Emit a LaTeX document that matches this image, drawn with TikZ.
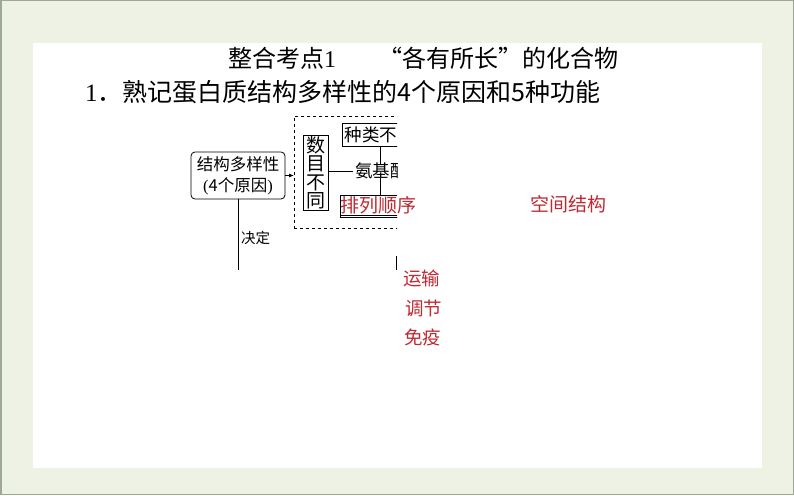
\documentclass[tikz,border=0pt]{standalone}
\usepackage{fontspec}
\setmainfont{Liberation Serif}
\newfontfamily\cjk{Noto Sans CJK SC}
\usetikzlibrary{arrows.meta}
\definecolor{bgc}{HTML}{EEF2E5}
\definecolor{edgec}{HTML}{9EA897}
\definecolor{redc}{RGB}{192,40,50}
\tikzset{
  txt/.style={inner sep=0pt, outer sep=0pt, anchor=west},
  redtxt/.style={txt, text=redc, font=\cjk\fontsize{19}{19}\selectfont},
  dtxt/.style={font=\cjk\fontsize{17.5}{17.5}\selectfont},
  line/.style={draw=black, line width=0.8pt},
}
\begin{document}
\begin{tikzpicture}[x=1pt,y=-1pt]
\useasboundingbox (0,0) rectangle (794,495);
\fill[bgc] (0,0) rectangle (794,495);
\draw[edgec, line width=1.5pt] (0.75,0.75) rectangle (793.25,494.25);
\fill[white] (33,43) rectangle (762,468);

% titles
\node[txt, font=\cjk\fontsize{24}{24}\selectfont] (t1a) at (228,58) {整合考点{\rmfamily 1}};
\node[txt, font=\cjk\fontsize{24}{24}\selectfont] (t1b) at (378,58) {“各有所长”的化合物};
\node[txt, font=\cjk\fontsize{25}{25}\selectfont] (t2) at (85,92) {{\rmfamily 1}．熟记蛋白质结构多样性的4个原因和5种功能};

% diagram (clipped image)
\begin{scope}
\clip (183,106) rectangle (397,270);
\node[draw, line width=0.8pt, rounded corners=4pt, minimum width=94pt, minimum height=47pt, inner sep=0pt, align=center,
      font=\cjk\fontsize{16.5}{21}\selectfont] (jg) at (238,175.5) {结构多样性\\{\rmfamily(}4个原因{\rmfamily)}};
\node[draw, dashed, line width=0.8pt, minimum width=300pt, minimum height=112pt, anchor=north west, inner sep=0pt] (dbox) at (294,116) {};
\draw[line, -{Latex[length=5pt,width=4pt]}] (jg.east) -- (jg.east -| dbox.west);
\node[draw, line width=0.8pt, minimum width=25pt, minimum height=75pt, inner sep=0pt, align=center,
      font=\cjk\fontsize{19}{18.5}\selectfont] (sm) at (315.5,173) {数\\目\\不\\同};
\node[txt, dtxt] (aj) at (355,171) {氨基酸};
\node[draw, line width=0.8pt, anchor=north west, minimum height=23pt, inner sep=2.5pt, dtxt] (zl) at (342,123) {种类不同};
\node[draw, line width=0.8pt, anchor=north west, minimum height=22pt, minimum width=90pt, inner sep=0pt] (pl) at (340,195) {};
\draw[line] ([yshift=2.5pt]pl.south west) -- ([yshift=2.5pt]pl.south east);
\coordinate (vx) at (380,0);
\draw[line] (aj.west -| sm.east) -- ([xshift=-2pt]aj.west);
\draw[line] (zl.south -| vx) -- ([yshift=-1pt]aj.north -| vx);
\draw[line] ([yshift=1pt]aj.south -| vx) -- (pl.north -| vx);
\coordinate (jd) at (238,270);
\draw[line] (jg.south) -- (jd);
\node[txt, font=\cjk\fontsize{14.5}{14.5}\selectfont] (jdl) at (241,238) {决定};
\coordinate (s1) at (396,256);
\coordinate (s2) at (396,270);
\draw[line] (s1) -- (s2);
\end{scope}

% red answers
\node[redtxt] (r1) at (340,205) {排列顺序};
\node[redtxt] (r2) at (530,204) {空间结构};
\node[redtxt, font=\cjk\fontsize{18.5}{18.5}\selectfont] (r3) at (403,278) {运输};
\node[redtxt, font=\cjk\fontsize{18.5}{18.5}\selectfont] (r4) at (405,308) {调节};
\node[redtxt, font=\cjk\fontsize{18.5}{18.5}\selectfont] (r5) at (404,337) {免疫};
\end{tikzpicture}
\end{document}
